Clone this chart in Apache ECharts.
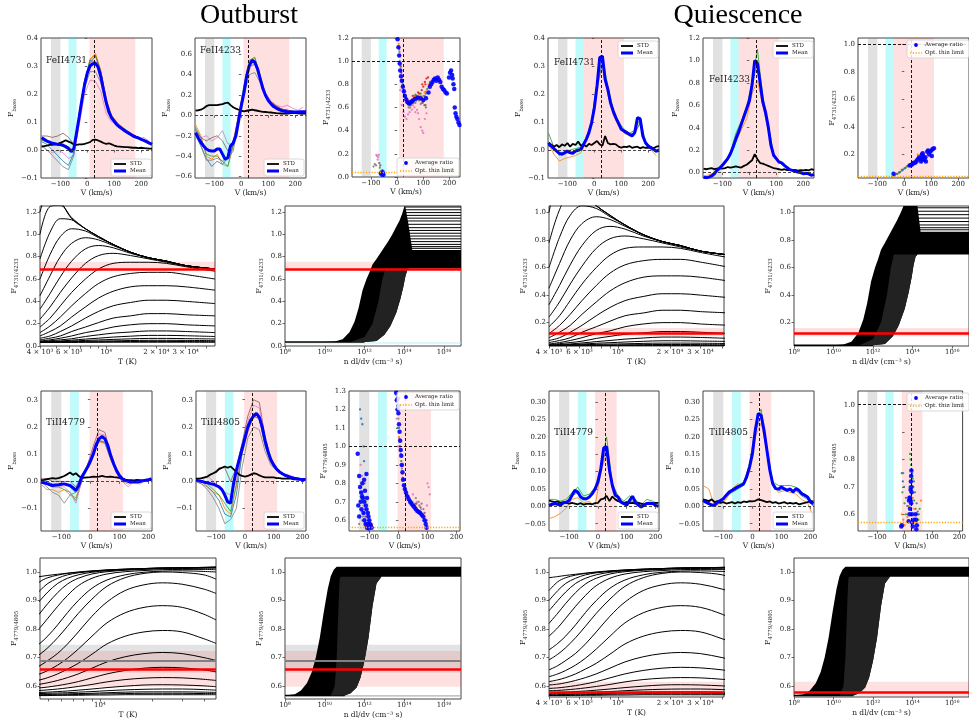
<!DOCTYPE html>
<html><head><meta charset="utf-8">
<script src="https://cdn.jsdelivr.net/npm/echarts@6/dist/echarts.min.js"></script>
<style>html,body{margin:0;padding:0;background:#fff}#c{width:969px;height:724px}</style>
</head><body><div id="c"></div><script>
// ================= DATA =================
const vFe = [-170,-160,-150,-140,-130,-120,-110,-100,-90,-80,-70,-60,-50,-40,-30,-20,-10,0,10,20,30,40,50,60,70,80,90,100,110,120,130,140,150,160,170,180,190,200,210,220,230,240];
const vTi = [-170,-160,-150,-140,-130,-120,-110,-100,-90,-80,-70,-60,-50,-40,-30,-20,-10,0,10,20,30,40,50,60,70,80,90,100,110,120,130,140,150,160,170,180,190,200,210];
const vFe20 = [-170,-150,-130,-110,-90,-70,-50,-30,-10,10,30,50,70,90,110,130,150,170,190,210,230];
const vTi20 = [-170,-150,-130,-110,-90,-70,-50,-30,-10,10,30,50,70,90,110,130,150,170,190,210];

// Outburst FeII4731
const obA_mean = [0.044,0.038,0.032,0.028,0.024,0.022,0.02,0.02,0.017,0.012,0.006,-0.006,0.005,0.062,0.12,0.18,0.235,0.275,0.3,0.308,0.31,0.296,0.262,0.215,0.17,0.135,0.115,0.102,0.09,0.082,0.075,0.068,0.062,0.056,0.05,0.046,0.043,0.038,0.034,0.03,0.025,0.02];
const obA_std = [0.012,0.014,0.016,0.018,0.018,0.02,0.022,0.026,0.03,0.035,0.03,0.026,0.02,0.018,0.02,0.02,0.022,0.025,0.028,0.036,0.037,0.034,0.03,0.025,0.022,0.024,0.02,0.016,0.013,0.012,0.011,0.01,0.01,0.009,0.008,0.008,0.007,0.008,0.007,0.006,0.005,0.005];
const obA_orange = [0.04,0.03,0.022,0.022,0.02,0.01,0.0,0.125,0.245,0.325,0.345,0.285,0.18,0.125,0.1,0.082,0.068,0.055,0.045,0.035,0.022];
const obA_green = [0.035,0.028,0.02,0.018,0.012,0.0,-0.01,0.12,0.24,0.32,0.34,0.28,0.178,0.122,0.098,0.08,0.066,0.054,0.044,0.034,0.022];
const obA_grey = [0.015,0.0,-0.02,-0.04,-0.06,-0.07,-0.02,0.1,0.22,0.28,0.28,0.24,0.16,0.11,0.09,0.075,0.06,0.05,0.045,0.03,0.02];
const obA_brown = [0.05,0.05,0.045,0.05,0.06,0.045,0.02,0.12,0.235,0.31,0.335,0.28,0.175,0.12,0.095,0.08,0.065,0.055,0.045,0.035,0.025];
const obA_pink = [0.02,0.0,-0.01,0.0,-0.01,-0.03,-0.02,0.09,0.2,0.25,0.245,0.21,0.13,0.1,0.1,0.08,0.06,0.045,0.04,0.045,0.03];
const obA_blue = [0.03,0.02,0.0,-0.02,-0.04,-0.055,-0.01,0.13,0.25,0.32,0.315,0.27,0.17,0.12,0.095,0.08,0.066,0.052,0.043,0.033,0.02];
// Outburst FeII4233
const obB_mean = [-0.17,-0.22,-0.266,-0.3,-0.33,-0.345,-0.35,-0.35,-0.33,-0.33,-0.38,-0.43,-0.415,-0.3,-0.27,-0.2,-0.052,0.095,0.227,0.39,0.49,0.54,0.52,0.457,0.358,0.26,0.194,0.145,0.112,0.086,0.07,0.056,0.046,0.04,0.036,0.033,0.032,0.033,0.034,0.035,0.035,0.035];
const obB_std = [0.046,0.05,0.055,0.07,0.09,0.1,0.1,0.1,0.1,0.105,0.11,0.12,0.125,0.1,0.08,0.065,0.055,0.045,0.04,0.045,0.05,0.055,0.05,0.045,0.04,0.035,0.033,0.03,0.028,0.025,0.022,0.02,0.018,0.016,0.018,0.02,0.022,0.023,0.02,0.018,0.016,0.016];
const obB_orange = [-0.09,-0.2,-0.4,-0.43,-0.38,-0.48,-0.5,-0.3,0.0,0.27,0.52,0.56,0.38,0.2,0.13,0.09,0.06,0.05,0.04,0.03,0.035];
const obB_green = [-0.12,-0.22,-0.38,-0.4,-0.4,-0.45,-0.5,-0.28,0.0,0.3,0.54,0.57,0.39,0.21,0.13,0.09,0.06,0.05,0.04,0.03,0.03];
const obB_blue = [-0.18,-0.3,-0.42,-0.5,-0.45,-0.48,-0.42,-0.3,-0.05,0.25,0.48,0.5,0.35,0.19,0.12,0.08,0.06,0.05,0.04,0.03,0.03];
const obB_grey = [-0.2,-0.3,-0.44,-0.44,-0.42,-0.45,-0.42,-0.35,-0.05,0.2,0.4,0.42,0.32,0.2,0.13,0.09,0.06,0.05,0.04,0.03,0.0];
const obB_pink = [-0.15,-0.22,-0.2,-0.25,-0.22,-0.15,-0.28,-0.28,0.02,0.25,0.5,0.52,0.38,0.22,0.14,0.1,0.08,0.1,0.07,0.05,0.08];
const obB_brown = [-0.14,-0.22,-0.25,-0.22,-0.2,-0.25,-0.35,-0.25,0.0,0.26,0.5,0.54,0.37,0.2,0.13,0.09,0.06,0.05,0.04,0.03,0.03];
// Outburst TiII4779
const obD_mean = [-0.002,-0.005,-0.008,-0.012,-0.015,-0.013,-0.012,-0.01,-0.009,-0.012,-0.015,-0.023,-0.033,-0.015,0.016,0.034,0.052,0.074,0.1,0.135,0.156,0.165,0.156,0.132,0.095,0.065,0.04,0.022,0.01,0.004,0.0,-0.002,-0.002,-0.002,0.0,0.002,0.004,0.006,0.01];
const obD_std = [0.005,0.006,0.008,0.01,0.012,0.01,0.012,0.016,0.02,0.026,0.033,0.024,0.03,0.02,0.013,0.014,0.015,0.016,0.018,0.017,0.018,0.02,0.018,0.017,0.018,0.016,0.015,0.013,0.01,0.007,0.005,0.005,0.004,0.006,0.005,0.004,0.005,0.006,0.005];
const obD_orange = [-0.01,-0.03,-0.03,-0.04,-0.03,-0.05,-0.06,0.0,0.05,0.1,0.145,0.14,0.08,0.03,0.0,-0.01,0.0,0.0,0.005,0.01];
const obD_green = [0.0,-0.01,-0.02,-0.02,-0.03,-0.04,-0.07,0.0,0.055,0.11,0.16,0.16,0.09,0.035,0.005,0.0,0.0,0.0,0.005,0.01];
const obD_grey = [0.0,-0.02,-0.04,-0.05,-0.08,-0.05,-0.04,0.01,0.05,0.11,0.15,0.14,0.08,0.03,0.0,0.0,0.0,0.0,0.005,0.01];
const obD_brown = [0.01,0.01,0.0,0.0,0.0,0.0,-0.02,0.02,0.06,0.13,0.19,0.18,0.1,0.04,0.005,0.0,0.0,0.0,0.005,0.01];
const obD_pink = [0.0,-0.01,-0.02,-0.02,-0.02,-0.04,-0.08,0.0,0.06,0.12,0.175,0.17,0.1,0.04,0.0,-0.02,0.0,-0.01,0.005,0.01];
const obD_blue = [0.005,0.0,-0.01,-0.015,-0.01,-0.02,-0.04,0.01,0.05,0.1,0.15,0.145,0.085,0.035,0.0,0.0,0.0,0.0,0.005,0.01];
// Outburst TiII4805
const obE_mean = [0.004,0.002,0.0,-0.003,-0.005,-0.008,-0.01,-0.015,-0.02,-0.03,-0.05,-0.075,-0.08,-0.01,0.04,0.08,0.12,0.16,0.2,0.225,0.24,0.25,0.235,0.2,0.15,0.11,0.08,0.06,0.045,0.035,0.028,0.022,0.018,0.015,0.012,0.01,0.008,0.007,0.006];
const obE_std = [0.01,0.01,0.012,0.015,0.018,0.025,0.03,0.035,0.045,0.05,0.055,0.05,0.055,0.045,0.035,0.025,0.02,0.018,0.02,0.025,0.03,0.028,0.022,0.018,0.015,0.015,0.015,0.015,0.012,0.012,0.01,0.01,0.01,0.01,0.008,0.008,0.008,0.008,0.008];
const obE_orange = [0.0,-0.01,-0.02,-0.04,-0.05,-0.1,-0.12,-0.02,0.1,0.18,0.24,0.23,0.13,0.07,0.04,0.025,0.02,0.01,0.01,0.005];
const obE_green = [0.005,0.0,-0.01,-0.03,-0.05,-0.08,-0.11,-0.01,0.11,0.2,0.25,0.24,0.14,0.075,0.045,0.03,0.02,0.012,0.01,0.006];
const obE_grey = [0.0,-0.01,-0.03,-0.06,-0.1,-0.155,-0.14,-0.1,0.05,0.16,0.2,0.19,0.11,0.06,0.04,0.025,0.02,0.012,0.008,0.005];
const obE_brown = [0.01,0.01,0.02,0.03,0.05,0.05,0.0,0.05,0.14,0.24,0.3,0.29,0.16,0.085,0.05,0.03,0.022,0.015,0.01,0.006];
const obE_pink = [0.01,0.0,0.02,0.0,-0.02,-0.04,-0.05,0.0,0.12,0.22,0.28,0.27,0.16,0.08,0.05,0.03,0.025,0.015,0.012,0.008];
const obE_blue = [0.005,0.0,-0.02,-0.04,-0.07,-0.12,-0.13,-0.05,0.1,0.19,0.24,0.23,0.13,0.07,0.04,0.028,0.02,0.012,0.008,0.005];

// Quiescence FeII4731
const qA_mean = [0.026,0.014,0.005,-0.004,-0.012,-0.015,-0.01,-0.004,-0.01,-0.012,-0.004,-0.001,0.002,0.02,0.038,0.062,0.098,0.151,0.229,0.33,0.335,0.252,0.217,0.169,0.139,0.115,0.095,0.074,0.068,0.062,0.056,0.05,0.062,0.115,0.112,0.05,0.026,0.014,0.008,0.002,-0.004,0.0];
const qA_std = [0.014,0.02,0.012,0.018,0.01,0.02,0.015,0.025,0.012,0.022,0.018,0.03,0.015,0.02,0.012,0.022,0.018,0.025,0.032,0.02,0.015,0.05,0.025,0.02,0.022,0.02,0.012,0.008,0.012,0.01,0.014,0.008,0.01,0.012,0.006,0.01,0.008,0.008,0.01,0.006,0.012,0.014];
const qA_orange = [0.02,-0.015,-0.04,-0.03,-0.025,-0.02,-0.01,0.03,0.09,0.22,0.3,0.2,0.125,0.085,0.06,0.05,0.055,0.1,0.02,0.0,-0.02];
const qA_green = [0.06,0.01,-0.02,-0.005,0.0,0.005,0.01,0.045,0.105,0.24,0.33,0.23,0.145,0.1,0.075,0.06,0.07,0.11,0.03,0.012,0.0];
const qA_blue = [0.03,0.005,-0.01,-0.01,-0.01,0.0,0.0,0.038,0.1,0.23,0.31,0.215,0.14,0.094,0.07,0.056,0.062,0.095,0.026,0.01,-0.01];
// Quiescence FeII4233
const qB_mean = [-0.04,-0.045,-0.04,-0.03,-0.01,0.02,0.04,0.065,0.095,0.125,0.17,0.23,0.3,0.36,0.43,0.5,0.57,0.64,0.78,1.0,0.97,0.8,0.63,0.54,0.41,0.245,0.155,0.125,0.095,0.087,0.065,0.045,0.027,0.02,0.012,0.006,0.0,-0.01,-0.005,-0.01,-0.024,-0.015];
const qB_std = [0.035,0.03,0.035,0.04,0.03,0.035,0.04,0.035,0.04,0.05,0.045,0.05,0.055,0.05,0.045,0.06,0.07,0.09,0.11,0.165,0.12,0.085,0.08,0.07,0.06,0.05,0.04,0.035,0.03,0.025,0.03,0.022,0.025,0.02,0.025,0.018,0.022,0.02,0.025,0.02,0.03,0.025];
const qB_orange = [-0.03,-0.02,0.0,0.05,0.1,0.15,0.27,0.38,0.48,0.7,0.82,0.6,0.38,0.15,0.1,0.06,0.03,0.02,0.0,-0.01,-0.03];
const qB_green = [-0.04,-0.04,-0.02,0.04,0.1,0.18,0.35,0.46,0.59,0.8,1.1,0.68,0.43,0.17,0.1,0.07,0.03,0.015,0.005,0.0,-0.02];
const qB_blue = [-0.05,-0.04,-0.01,0.03,0.09,0.17,0.33,0.44,0.56,0.76,1.0,0.62,0.4,0.15,0.09,0.06,0.025,0.01,0.0,-0.01,-0.03];
// Quiescence TiII4779
const qD_mean = [0.003,0.006,0.008,0.006,0.004,0.01,0.012,0.017,0.032,0.046,0.041,0.027,0.022,0.022,0.027,0.036,0.05,0.07,0.108,0.168,0.172,0.104,0.06,0.032,0.027,0.012,0.008,0.003,0.017,0.029,0.012,0.004,-0.002,0.003,0.008,0.009,0.008,0.003,0.0];
const qD_std = [0.017,0.014,0.012,0.014,0.01,0.012,0.01,0.008,0.01,0.008,0.006,0.009,0.005,0.007,0.008,0.006,0.009,0.01,0.02,0.022,0.03,0.015,0.028,0.02,0.015,0.012,0.01,0.012,0.009,0.01,0.008,0.01,0.008,0.006,0.009,0.01,0.008,0.01,0.01];
const qD_orange = [-0.035,-0.03,-0.02,-0.005,0.02,0.025,0.01,0.015,0.0,0.1,0.15,0.05,0.02,0.005,0.015,0.01,-0.005,0.005,0.005,0.0];
const qD_green = [0.02,0.02,0.015,0.02,0.04,0.055,0.03,0.035,0.055,0.115,0.2,0.065,0.03,0.015,0.03,0.02,0.005,0.02,0.015,0.005];
const qD_blue = [0.0,0.005,0.005,0.01,0.03,0.04,0.02,0.025,0.05,0.105,0.17,0.06,0.028,0.008,0.018,0.012,0.0,0.008,0.008,0.0];
// Quiescence TiII4805
const qE_mean = [0.017,0.012,0.008,0.003,0.004,0.012,0.017,0.022,0.032,0.041,0.046,0.051,0.056,0.06,0.065,0.084,0.113,0.151,0.219,0.267,0.262,0.219,0.161,0.104,0.065,0.051,0.05,0.056,0.05,0.046,0.05,0.041,0.051,0.046,0.036,0.032,0.027,0.012,0.008];
const qE_std = [0.02,0.018,0.015,0.02,0.012,0.015,0.01,0.012,0.008,0.01,0.012,0.008,0.012,0.01,0.014,0.012,0.015,0.014,0.016,0.02,0.018,0.015,0.012,0.014,0.01,0.012,0.008,0.01,0.012,0.008,0.01,0.008,0.01,0.006,0.008,0.01,0.012,0.015,0.014];
const qE_orange = [0.06,0.05,0.0,0.01,0.02,0.05,0.065,0.06,0.1,0.2,0.24,0.16,0.06,0.04,0.045,0.04,0.035,0.02,0.01,-0.03];
const qE_green = [0.02,0.01,0.005,0.015,0.03,0.05,0.06,0.07,0.12,0.23,0.28,0.17,0.07,0.06,0.06,0.06,0.055,0.04,0.03,0.01];
const qE_blue = [0.015,0.005,0.0,0.012,0.028,0.04,0.05,0.06,0.11,0.215,0.26,0.16,0.06,0.045,0.05,0.05,0.045,0.03,0.02,0.0];

// Ratio scatter points [V, ratio]
const obC_avg = [[2,1.19],[5,1.12],[8,1.05],[10,0.98],[12,0.92],[15,0.87],[18,0.83],[22,0.78],[26,0.74],[30,0.7],[35,0.67],[40,0.645],[45,0.635],[50,0.64],[55,0.65],[60,0.66],[70,0.675],[80,0.685],[90,0.68],[100,0.665],[110,0.68],[120,0.73],[125,0.78],[130,0.8],[135,0.82],[140,0.84],[145,0.85],[150,0.83],[155,0.86],[160,0.84],[165,0.82],[170,0.78],[175,0.76],[180,0.75],[185,0.73],[190,0.72],[198,0.86],[202,0.9],[206,0.92],[210,0.88],[212,0.85],[215,0.8],[218,0.76],[220,0.6],[223,0.55],[226,0.52],[230,0.5],[234,0.47],[238,0.45],[-62,0.03],[-57,0.02],[-52,0.02],[-55,0.04]];
const obC_orange = [[6,1.15],[12,0.98],[18,0.84],[25,0.75],[32,0.68],[40,0.64],[50,0.65],[60,0.67],[70,0.69],[80,0.7],[90,0.7],[100,0.7],[110,0.74],[120,0.8],[-60,0.03],[-55,0.05],[-52,0.02],[45,0.66],[65,0.7],[85,0.72],[105,0.73]];
const obC_green = [[8,1.1],[14,0.95],[20,0.82],[28,0.72],[36,0.66],[45,0.63],[55,0.65],[65,0.68],[75,0.7],[85,0.69],[95,0.68],[105,0.7],[115,0.76],[125,0.82],[-58,0.04],[-54,0.03],[50,0.62],[70,0.71],[90,0.72],[110,0.72]];
const obC_red = [[10,1.05],[16,0.9],[24,0.78],[34,0.68],[44,0.64],[54,0.66],[64,0.68],[74,0.7],[84,0.72],[94,0.75],[100,0.78],[106,0.82],[112,0.85],[118,0.86],[-56,0.06],[60,0.7],[80,0.73],[96,0.8],[108,0.8]];
const obC_grey = [[4,1.2],[10,1.0],[18,0.83],[26,0.72],[34,0.65],[44,0.6],[54,0.62],[64,0.64],[74,0.66],[84,0.66],[94,0.64],[104,0.62],[110,0.6],[-90,0.09],[-85,0.11],[-80,0.1],[-66,0.08],[-62,0.05],[50,0.6],[70,0.64],[90,0.63]];
const obC_pink = [[12,0.75],[18,0.62],[24,0.56],[30,0.52],[36,0.5],[42,0.54],[48,0.56],[56,0.58],[66,0.6],[76,0.58],[84,0.5],[90,0.43],[96,0.4],[100,0.38],[106,0.5],[112,0.55],[-79,0.19],[-76,0.18],[-72,0.17],[-70,0.19],[-74,0.15],[60,0.62],[70,0.56],[80,0.55]];
const obC_purple = [[9,1.08],[15,0.92],[22,0.8],[30,0.71],[40,0.65],[50,0.63],[62,0.66],[72,0.68],[82,0.69],[92,0.67],[102,0.66],[112,0.69]];
const obC_brown = [[7,1.12],[13,0.96],[21,0.8],[29,0.7],[38,0.64],[48,0.62],[58,0.64],[68,0.66],[78,0.68],[88,0.67],[98,0.64],[108,0.62],[-68,0.12],[-64,0.1]];

const obF_avg = [[-140,0.96],[-135,0.84],[-132,0.78],[-128,0.75],[-125,0.73],[-122,0.72],[-118,0.7],[-115,0.76],[-112,0.68],[-110,0.66],[-108,0.72],[-105,0.64],[-103,0.62],[-100,0.6],[-98,0.58],[-95,0.57],[-130,0.7],[-127,0.66],[-120,0.64],[-117,0.6],[-113,0.58],[-108,0.56],[-102,0.555],[-135,0.62],[-138,0.68],[-124,0.8],[-118,0.82],[-110,0.85],[-105,0.58],[-92,0.56],[-8,1.29],[-5,1.25],[-3,1.2],[0,1.18],[2,1.12],[4,1.08],[6,1.03],[8,0.98],[10,0.95],[12,0.9],[14,0.86],[16,0.82],[19,0.79],[22,0.77],[26,0.75],[30,0.73],[35,0.715],[40,0.7],[45,0.69],[50,0.68],[55,0.67],[60,0.66],[65,0.65],[70,0.645],[75,0.64],[80,0.63],[85,0.62],[90,0.6],[94,0.58],[97,0.56],[-2,1.26],[1,1.22]];
const obF_orange = [[-130,0.75],[-120,0.68],[-110,0.62],[-100,0.6],[-90,0.58],[-5,1.2],[2,1.05],[8,0.95],[14,0.85],[22,0.76],[32,0.72],[45,0.69],[60,0.67],[75,0.64],[90,0.6],[100,0.57],[-125,0.6],[-115,0.57]];
const obF_green = [[-128,0.72],[-118,0.64],[-106,0.6],[-96,0.58],[-3,1.1],[4,1.0],[10,0.92],[18,0.82],[28,0.74],[40,0.7],[55,0.68],[70,0.65],[85,0.62],[95,0.59],[-112,0.7]];
const obF_grey = [[-135,0.58],[-122,0.62],[-110,0.58],[-100,0.56],[0,1.15],[6,1.0],[12,0.88],[20,0.79],[30,0.74],[42,0.71],[58,0.69],[72,0.68],[86,0.66],[98,0.6],[60,0.72],[70,0.7],[80,0.69]];
const obF_pink = [[-130,0.9],[-125,0.84],[-115,0.8],[-10,1.25],[-6,1.15],[0,1.0],[6,0.9],[14,0.83],[24,0.77],[36,0.73],[50,0.74],[64,0.7],[78,0.66],[92,0.62],[100,0.8],[104,0.78],[108,0.74],[98,0.68]];
const obF_blue = [[-132,1.2],[-128,1.15],[-124,1.12],[-120,1.0],[-118,0.92],[-8,1.28],[-4,1.22],[2,1.1],[8,0.96],[16,0.83],[26,0.76],[40,0.71],[56,0.68],[72,0.65],[88,0.61]];
const obF_brown = [[-126,0.65],[-114,0.62],[-104,0.58],[-2,1.22],[4,1.04],[12,0.9],[22,0.78],[34,0.73],[48,0.7],[62,0.69],[76,0.67],[90,0.64],[96,0.6]];

const qC_avg = [[20,0.12],[25,0.125],[30,0.13],[35,0.14],[40,0.14],[45,0.15],[50,0.165],[55,0.18],[60,0.17],[62,0.15],[65,0.2],[68,0.21],[70,0.19],[72,0.17],[75,0.16],[78,0.18],[80,0.15],[85,0.22],[88,0.23],[92,0.2],[95,0.22],[100,0.23],[105,0.24],[110,0.245],[102,0.19],[-40,0.06]];
const qC_orange = [[-40,0.05],[-30,0.06],[-20,0.07],[-10,0.09],[0,0.1],[10,0.115],[20,0.13],[30,0.14],[40,0.15],[50,0.2],[60,0.18],[70,0.16]];
const qC_green = [[-45,0.04],[-35,0.05],[-25,0.06],[-15,0.075],[-5,0.09],[5,0.105],[15,0.12],[25,0.13],[35,0.14],[45,0.165],[55,0.17],[65,0.15]];
const qC_blue = [[-38,0.05],[-28,0.06],[-18,0.07],[-8,0.085],[2,0.1],[12,0.115],[22,0.125],[32,0.14],[42,0.16],[52,0.175],[62,0.16]];

const qF_avg = [[-12,0.555],[-10,0.56],[15,0.575],[18,0.6],[20,0.62],[20,0.66],[22,0.65],[22,0.69],[23,0.72],[24,0.74],[25,0.7],[26,0.68],[24,0.64],[27,0.6],[28,0.57],[30,0.555],[40,0.6],[42,0.58],[45,0.56],[43,0.545],[35,0.58],[18,0.66],[16,0.65],[25,0.76]];
const qF_green = [[-8,0.68],[-5,0.75],[0,0.64],[5,0.6],[20,0.82],[22,0.8],[24,0.78],[26,0.76],[28,0.74],[30,0.73],[32,0.7],[35,0.65],[40,0.62],[45,0.6],[50,0.58],[55,0.62]];
const qF_orange = [[-10,0.6],[-5,0.58],[0,0.56],[10,0.59],[15,0.63],[20,0.6],[25,0.64],[30,0.66],[35,0.62],[40,0.58],[45,0.57],[50,0.6],[60,0.65]];
const qF_blue = [[-10,0.75],[-6,0.72],[-2,0.7],[5,0.66],[10,0.63],[18,0.7],[28,0.75],[34,0.72],[38,0.68],[44,0.64],[48,0.61],[52,0.6]];

// Model grids: ratio vs temperature (one curve per column density)
const tFe = [4000,4600,5300,6200,7500,9000,11000,14000,18000,23000,30000,45000];
const feModelT = [
 [1.2,1.4,1.3,1.14,1.05,0.98,0.91,0.84,0.79,0.76,0.72,0.69],
 [1.0,1.25,1.26,1.15,1.05,0.98,0.91,0.84,0.79,0.76,0.72,0.69],
 [0.78,1.02,1.14,1.13,1.05,0.98,0.91,0.84,0.79,0.76,0.72,0.69],
 [0.6,0.82,0.98,1.05,1.03,0.97,0.91,0.84,0.79,0.76,0.72,0.69],
 [0.45,0.63,0.8,0.92,0.97,0.95,0.9,0.84,0.79,0.76,0.72,0.69],
 [0.33,0.47,0.62,0.76,0.87,0.9,0.88,0.83,0.79,0.76,0.72,0.69],
 [0.24,0.35,0.48,0.61,0.74,0.81,0.83,0.81,0.78,0.75,0.72,0.69],
 [0.17,0.25,0.36,0.48,0.6,0.69,0.74,0.75,0.75,0.74,0.71,0.67],
 [0.12,0.18,0.26,0.36,0.47,0.56,0.62,0.65,0.66,0.66,0.64,0.6],
 [0.09,0.13,0.18,0.26,0.35,0.43,0.49,0.53,0.54,0.54,0.53,0.5],
 [0.07,0.09,0.13,0.18,0.25,0.31,0.36,0.39,0.41,0.41,0.4,0.38],
 [0.055,0.07,0.09,0.13,0.17,0.21,0.25,0.27,0.29,0.29,0.28,0.27],
 [0.045,0.055,0.07,0.09,0.12,0.14,0.17,0.19,0.2,0.2,0.19,0.18],
 [0.04,0.047,0.055,0.065,0.085,0.1,0.115,0.125,0.135,0.135,0.13,0.12],
 [0.037,0.041,0.045,0.052,0.062,0.07,0.08,0.088,0.095,0.095,0.092,0.085],
 [0.035,0.037,0.04,0.044,0.05,0.054,0.059,0.064,0.068,0.068,0.066,0.063],
 [0.034,0.035,0.037,0.039,0.042,0.044,0.046,0.049,0.051,0.051,0.05,0.048],
 [0.033,0.034,0.035,0.036,0.037,0.038,0.039,0.04,0.041,0.041,0.04,0.039],
 [0.031,0.031,0.032,0.032,0.033,0.033,0.034,0.034,0.034,0.034,0.034,0.033]
];
const tTi = [4000,4500,5000,5700,6500,7500,9000,11000,14000,18000,23000,30000,40000,47000];
const tiModelT = [
 [0.98,0.984,0.988,0.992,0.996,1.0,1.004,1.007,1.01,1.012,1.014,1.015,1.016,1.017],
 [0.935,0.966,0.98,0.989,0.995,0.999,1.003,1.007,1.01,1.012,1.014,1.015,1.016,1.017],
 [0.9,0.935,0.96,0.978,0.99,0.997,1.002,1.006,1.009,1.012,1.014,1.015,1.016,1.017],
 [0.864,0.9,0.93,0.96,0.978,0.99,0.999,1.004,1.008,1.011,1.013,1.014,1.015,1.016],
 [0.82,0.856,0.89,0.928,0.958,0.978,0.993,1.001,1.006,1.009,1.011,1.012,1.013,1.013],
 [0.775,0.805,0.838,0.88,0.918,0.952,0.978,0.993,1.001,1.005,1.008,1.009,1.009,1.008],
 [0.727,0.75,0.776,0.815,0.858,0.9,0.943,0.972,0.99,0.999,1.003,1.004,1.002,1.0],
 [0.692,0.712,0.735,0.77,0.81,0.855,0.905,0.95,0.98,0.995,1.0,0.998,0.99,0.975],
 [0.657,0.672,0.69,0.715,0.748,0.79,0.845,0.895,0.935,0.955,0.962,0.957,0.94,0.925],
 [0.633,0.643,0.655,0.674,0.698,0.73,0.775,0.822,0.857,0.876,0.882,0.876,0.852,0.832],
 [0.616,0.622,0.63,0.643,0.66,0.68,0.712,0.748,0.775,0.79,0.795,0.79,0.766,0.75],
 [0.604,0.607,0.612,0.62,0.63,0.643,0.663,0.685,0.703,0.714,0.718,0.714,0.7,0.69],
 [0.592,0.594,0.597,0.602,0.608,0.616,0.629,0.643,0.655,0.663,0.666,0.664,0.657,0.65],
 [0.584,0.585,0.587,0.59,0.594,0.599,0.606,0.615,0.623,0.628,0.63,0.629,0.624,0.62],
 [0.577,0.578,0.579,0.581,0.583,0.586,0.59,0.595,0.6,0.604,0.605,0.604,0.601,0.598],
 [0.573,0.574,0.575,0.576,0.577,0.579,0.581,0.584,0.587,0.589,0.59,0.59,0.588,0.586],
 [0.57,0.57,0.571,0.572,0.573,0.574,0.575,0.577,0.579,0.58,0.58,0.58,0.579,0.578],
 [0.568,0.568,0.569,0.569,0.57,0.571,0.572,0.573,0.574,0.575,0.575,0.575,0.574,0.574],
 [0.567,0.567,0.567,0.568,0.568,0.568,0.569,0.569,0.57,0.57,0.57,0.57,0.57,0.57]
];
// Model grids: ratio vs column density, outlines of the dense curve bundle [log10 n, ratio]
const feNLeft = [[8,0.035],[10,0.036],[10.5,0.04],[10.9,0.06],[11.25,0.125],[11.5,0.22],[11.7,0.34],[11.9,0.5],[12.1,0.6],[12.25,0.66],[12.4,0.73],[12.6,0.78],[12.9,0.86],[13.2,0.94],[13.4,1.0],[13.6,1.07],[13.75,1.12],[13.9,1.19],[14.0,1.25]];
const feNTop = [[14.05,1.25],[14.2,1.1],[14.4,0.86],[16.85,0.86],[16.85,0.695]];
const feNRight = [[14.25,0.695],[14.15,0.68],[14.05,0.62],[13.95,0.53],[13.8,0.42],[13.6,0.3],[13.3,0.18],[13.0,0.1],[12.6,0.045],[12.0,0.035]];
const feNMid = [[11.3,0.035],[12.0,0.08],[12.4,0.2],[12.7,0.4],[12.9,0.6],[13.05,0.695]];
const feNPlateau = [1.245,1.22,1.195,1.17,1.145,1.12,1.09,1.06,1.035,1.01,0.985,0.96,0.935,0.91,0.89,0.875];
const tiNLeft = [[8,0.567],[8.5,0.572],[8.8,0.585],[9.1,0.61],[9.35,0.65],[9.55,0.7],[9.75,0.77],[9.95,0.86],[10.15,0.94],[10.3,0.985],[10.45,1.008],[10.6,1.018]];
const tiNTop = [[16.85,1.018],[16.85,0.983]];
const tiNRight = [[12.85,0.983],[12.6,0.96],[12.4,0.88],[12.2,0.77],[12.0,0.69],[11.8,0.63],[11.6,0.595],[11.3,0.575],[11.0,0.567]];
const tiNMid = [[10.3,0.567],[10.5,0.6],[10.6,0.7],[10.65,0.8],[10.7,0.9],[10.75,0.975],[10.8,0.983]];

// observed ratios (line, band)
const obsFeO = {val:0.685, lo:0.685, hi:0.755};
const obsFeQ = {val:0.123, lo:0.10, hi:0.16};
const obsTiO = {val:0.664, lo:0.598, hi:0.723, gval:0.691, glo:0.648, ghi:0.745};
const obsTiQ = {val:0.582, lo:0.565, hi:0.615};

// ================= BUILD =================
const FONT = 'DejaVu Serif';
const C = {blue:'#1f77b4', orange:'#ff7f0e', green:'#2ca02c', red:'#d62728', purple:'#9467bd', brown:'#8c564b', pink:'#e377c2', grey:'#7f7f7f'};
const grids=[], xAxes=[], yAxes=[], series=[], graphics=[];
const SUP = '⁰¹²³⁴⁵⁶⁷⁸⁹';
const sup = n => String(n).split('').map(d => SUP[+d]).join('');
const fmtD = d => v => (v < -1e-9 ? '\u2212' : '') + Math.abs(v).toFixed(d);
const zip = (xs, ys) => xs.map((x,i) => [x, ys[i]]);
const P = v => Math.pow(10, v);

function yName(sub){ return '{f|F}{s|' + sub + '}'; }
const yNameStyle = {color:'#222', rich:{f:{fontSize:8, fontFamily:FONT, color:'#222', lineHeight:12}, s:{fontSize:5.5, fontFamily:FONT, color:'#222', verticalAlign:'bottom', lineHeight:6}}};

function addPanel(box, xc, yc){
  const gi = grids.length;
  grids.push({left:box[0], top:box[1], width:box[2]-box[0], height:box[3]-box[1], show:true, borderColor:'#444', borderWidth:1, backgroundColor:'#fff'});
  xAxes.push({type:xc.type||'value', gridIndex:gi, min:xc.min, max:xc.max, logBase:10,
    axisLine:{show:false}, splitLine:{show:false}, minorTick:{show:false},
    axisTick:{show:true, length:2.5, lineStyle:{color:'#444', width:0.8}, customValues:xc.ticks},
    axisLabel:{show:true, customValues:xc.labels||xc.ticks, formatter:xc.fmt, fontSize:7, fontFamily:FONT, color:'#222', margin:3, hideOverlap:false},
    name:xc.name, nameLocation:'middle', nameGap:xc.gap||11, nameTextStyle:{fontSize:7.5, fontFamily:FONT, color:'#222'}});
  yAxes.push({type:'value', gridIndex:gi, min:yc.min, max:yc.max,
    axisLine:{show:false}, splitLine:{show:false},
    axisTick:{show:true, length:2.5, lineStyle:{color:'#444', width:0.8}, customValues:yc.ticks},
    axisLabel:{show:true, customValues:yc.ticks, formatter:fmtD(yc.dec), fontSize:7, fontFamily:FONT, color:'#222', margin:3},
    name:yName(yc.sub), nameLocation:'middle', nameRotate:90, nameGap:yc.gap||22, nameTextStyle:yNameStyle});
  return gi;
}
function line(gi, data, color, width, z, extra){
  series.push(Object.assign({type:'line', xAxisIndex:gi, yAxisIndex:gi, data, symbol:'none', showSymbol:false, silent:true, animation:false, clip:true,
    lineStyle:{color, width}, itemStyle:{color}, z:z||2}, extra||{}));
}
function scatter(gi, data, color, size, z){
  series.push({type:'scatter', xAxisIndex:gi, yAxisIndex:gi, data, symbolSize:size, silent:true, animation:false, itemStyle:{color, opacity:0.9}, z:z||3});
}
function markers(gi, x0, y0, areas, lines, z){
  series.push({type:'line', xAxisIndex:gi, yAxisIndex:gi, data:[[x0,y0]], symbol:'none', silent:true, animation:false, lineStyle:{opacity:0}, z:z,
    markArea:{silent:true, data:areas||[]},
    markLine:{silent:true, symbol:['none','none'], label:{show:false}, animation:false, data:lines||[]}});
}
function polygon(gi, pts, color, z){
  series.push({type:'custom', xAxisIndex:gi, yAxisIndex:gi, coordinateSystem:'cartesian2d', data:[[P(pts[0][0]), pts[0][1]]], silent:true, animation:false, z:z,
    renderItem:(params, api) => { const cs = params.coordSys; return {type:'polygon', shape:{points:pts.map(p => api.coord([P(p[0]), p[1]]))}, style:{fill:color}, clipPath:{type:'rect', shape:{x:cs.x, y:cs.y, width:cs.width, height:cs.height}}}; }});
}
const band = (a, b, color) => [{xAxis:a, itemStyle:{color}}, {xAxis:b}];
const hband = (a, b, color) => [{yAxis:a, itemStyle:{color}}, {yAxis:b}];
const GREY = 'rgba(128,128,128,0.24)', CYAN = 'rgba(0,240,240,0.25)', PINK = 'rgba(255,0,0,0.12)';

const vxFe = {min:-172, max:240, ticks:[-100,0,100,200], fmt:fmtD(0), name:'V (km/s)'};
const vxTi = {min:-170, max:212, ticks:[-100,0,100,200], fmt:fmtD(0), name:'V (km/s)'};

function specPanel(box, vx, yc, pink, v, mean, std, v20, cols, label){
  const gi = addPanel(box, vx, Object.assign({sub:'base'}, yc));
  markers(gi, vx.min, yc.min, [band(-135,-100,GREY), band(-70,-40,CYAN), band(pink[0],pink[1],PINK)], [], 1);
  cols.forEach(c => line(gi, zip(v20, c[1]), c[0], 0.8, 2));
  line(gi, zip(v, std), '#000', 1.8, 3);
  line(gi, zip(v, mean), '#0000ff', 3, 4);
  markers(gi, vx.min, yc.min, [], [
    {xAxis:25, lineStyle:{color:'#000', type:[3,2], width:0.9}},
    {yAxis:0, lineStyle:{color:'#333', type:[3,2], width:0.9}}], 5);
  graphics.push({type:'text', x:label[1], y:label[2], z:50, style:{text:label[0], fontSize:9, fontFamily:FONT, fill:'#222', verticalAlign:'middle'}});
  return gi;
}
function ratioPanel(box, vx, yc, pink, thin, avg, groups){
  const gi = addPanel(box, vx, yc);
  markers(gi, vx.min, yc.min, [band(-135,-100,GREY), band(-70,-40,CYAN), band(pink[0],pink[1],PINK)], [], 1);
  groups.forEach(g => scatter(gi, g[1], g[0], 2.3, 3));
  scatter(gi, avg, '#0000ff', 4.5, 4);
  markers(gi, vx.min, yc.min, [], [
    {xAxis:25, lineStyle:{color:'#000', type:[3,2], width:0.9}},
    {yAxis:1.0, lineStyle:{color:'#000', type:[3,2], width:0.9}},
    {yAxis:thin, lineStyle:{color:'#ffa500', type:[1.2,1.6], width:1.3}}], 5);
  return gi;
}
const tLab = {4000:'4 × 10³', 6000:'6 × 10³', 10000:'10⁴', 20000:'2 × 10⁴', 30000:'3 × 10⁴'};
const tFmt = v => tLab[Math.round(v)] || '';
const nFmt = v => '10' + sup(Math.round(Math.log10(v)));
const nx = {type:'log', min:1e8, max:P(16.85), ticks:[1e8,1e10,1e12,1e14,1e16], fmt:nFmt, name:'n dl/dv (cm⁻³ s)', gap:12};

function modelT(box, xc, yc, tx, curves, obs){
  const gi = addPanel(box, Object.assign({type:'log', name:'T (K)', gap:12}, xc), yc);
  const areas = [hband(obs.lo, obs.hi, PINK)], lines = [];
  if (obs.gval !== undefined) { areas.push(hband(obs.glo, obs.ghi, 'rgba(128,128,128,0.22)')); }
  markers(gi, xc.min, yc.min, areas, [], 1);
  curves.forEach(c => line(gi, zip(tx, c), '#000', 1, 2, {smooth:0.35}));
  if (obs.gval !== undefined) lines.push({yAxis:obs.gval, lineStyle:{color:'#808080', width:2, type:'solid'}});
  lines.push({yAxis:obs.val, lineStyle:{color:'#ff0000', width:2.5, type:'solid'}});
  markers(gi, xc.min, yc.min, [], lines, 6);
  return gi;
}
function modelN(box, yc, left, top, right, mid, plateau, obs, baseLine){
  const gi = addPanel(box, nx, yc);
  const areas = [hband(obs.lo, obs.hi, PINK)], lines = [];
  if (obs.gval !== undefined) areas.push(hband(obs.glo, obs.ghi, 'rgba(128,128,128,0.22)'));
  markers(gi, 1e8, yc.min, areas, [], 1);
  if (baseLine) line(gi, [[1e8, baseLine[0]], [P(16.85), baseLine[0]]], baseLine[1], 1.2, 2);
  polygon(gi, left.concat(top, right), '#000', 3);
  polygon(gi, mid.concat(right), '#222', 4);
  line(gi, [[1e8, left[0][1]], [P(right[right.length-1][0]), left[0][1]]], '#000', 1.5, 3);
  plateau.forEach(L => line(gi, [[1e14, L], [P(16.85), L]], '#000', 1, 3));
  if (obs.gval !== undefined) lines.push({yAxis:obs.gval, lineStyle:{color:'#808080', width:2, type:'solid'}});
  lines.push({yAxis:obs.val, lineStyle:{color:'#ff0000', width:2.5, type:'solid'}});
  markers(gi, 1e8, yc.min, [], lines, 6);
  return gi;
}

// ---------- OUTBURST ----------
const feYA = {min:-0.1, max:0.4, ticks:[-0.1,0,0.1,0.2,0.3,0.4], dec:1};
specPanel([41,38,152,178], vxFe, feYA, [8,178], vFe, obA_mean, obA_std, vFe20,
  [[C.orange,obA_orange],[C.green,obA_green],[C.grey,obA_grey],[C.brown,obA_brown],[C.pink,obA_pink],[C.blue,obA_blue]], ['FeII4731',46,61]);
specPanel([195,38,306,178], vxFe, {min:-0.614, max:0.758, ticks:[-0.6,-0.4,-0.2,0,0.2,0.4,0.6], dec:1}, [8,178], vFe, obB_mean, obB_std, vFe20,
  [[C.orange,obB_orange],[C.green,obB_green],[C.blue,obB_blue],[C.grey,obB_grey],[C.pink,obB_pink],[C.brown,obB_brown]], ['FeII4233',200,51]);
ratioPanel([352,38,460,177], vxFe, {min:0, max:1.2, ticks:[0,0.2,0.4,0.6,0.8,1.0,1.2], dec:1, sub:'4731/4233', gap:20}, [8,178], 0.035, obC_avg,
  [[C.orange,obC_orange],[C.green,obC_green],[C.red,obC_red],[C.grey,obC_grey],[C.pink,obC_pink],[C.purple,obC_purple],[C.brown,obC_brown]]);
modelT([40,206,215,346], {min:4000, max:45000, ticks:[4000,5000,6000,7000,8000,9000,10000,20000,30000,40000], labels:[4000,6000,10000,20000,30000], fmt:tFmt},
  {min:0, max:1.254, ticks:[0,0.2,0.4,0.6,0.8,1.0,1.2], dec:1, sub:'4731/4233', gap:20}, tFe, feModelT, obsFeO);
modelN([285,206,461,346], {min:0, max:1.254, ticks:[0,0.2,0.4,0.6,0.8,1.0,1.2], dec:1, sub:'4731/4233', gap:20},
  feNLeft, feNTop, feNRight, feNMid, feNPlateau, obsFeO, [0.027,'#b8f4f4']);
const tiYO = {min:-0.182, max:0.332, ticks:[-0.1,0,0.1,0.2,0.3], dec:1};
specPanel([41,391,152,531], vxTi, tiYO, [-3,112], vTi, obD_mean, obD_std, vTi20,
  [[C.orange,obD_orange],[C.green,obD_green],[C.grey,obD_grey],[C.brown,obD_brown],[C.pink,obD_pink],[C.blue,obD_blue]], ['TiII4779',46,423]);
specPanel([196,391,306,531], vxTi, tiYO, [-3,112], vTi, obE_mean, obE_std, vTi20,
  [[C.orange,obE_orange],[C.green,obE_green],[C.grey,obE_grey],[C.brown,obE_brown],[C.pink,obE_pink],[C.blue,obE_blue]], ['TiII4805',201,423]);
ratioPanel([349,391,460,531], vxTi, {min:0.542, max:1.3, ticks:[0.6,0.7,0.8,0.9,1.0,1.1,1.2,1.3], dec:1, sub:'4779/4805', gap:20}, [-3,112], 0.565, obF_avg,
  [[C.orange,obF_orange],[C.green,obF_green],[C.grey,obF_grey],[C.pink,obF_pink],[C.blue,obF_blue],[C.brown,obF_brown]]);
modelT([40,558,216,699], {min:4500, max:47000, ticks:[5000,6000,7000,8000,9000,10000,20000,30000,40000], labels:[10000], fmt:tFmt},
  {min:0.555, max:1.049, ticks:[0.6,0.7,0.8,0.9,1.0], dec:1, sub:'4779/4805', gap:20}, tTi, tiModelT, obsTiO);
modelN([285,558,461,699], {min:0.555, max:1.049, ticks:[0.6,0.7,0.8,0.9,1.0], dec:1, sub:'4779/4805', gap:20},
  tiNLeft, tiNTop, tiNRight, tiNMid, [], obsTiO, [0.566,'#b0b0b0']);

// ---------- QUIESCENCE ----------
specPanel([548,38,659,178], vxFe, feYA, [-40,110], vFe, qA_mean, qA_std, vFe20,
  [[C.orange,qA_orange],[C.green,qA_green],[C.blue,qA_blue]], ['FeII4731',554,63]);
specPanel([703,38,814,178], vxFe, {min:-0.048, max:1.2, ticks:[0,0.2,0.4,0.6,0.8,1.0,1.2], dec:1}, [-40,110], vFe, qB_mean, qB_std, vFe20,
  [[C.orange,qB_orange],[C.green,qB_green],[C.blue,qB_blue]], ['FeII4233',709,80]);
ratioPanel([858,38,971,178], vxFe, {min:0.03, max:1.044, ticks:[0.2,0.4,0.6,0.8,1.0], dec:1, sub:'4731/4233', gap:20}, [-40,110], 0.035, qC_avg,
  [[C.orange,qC_orange],[C.green,qC_green],[C.blue,qC_blue]]);
modelT([549,206,724,346], {min:4000, max:41000, ticks:[4000,5000,6000,7000,8000,9000,10000,20000,30000,40000], labels:[4000,6000,10000,20000,30000], fmt:tFmt},
  {min:0.03, max:1.048, ticks:[0.2,0.4,0.6,0.8,1.0], dec:1, sub:'4731/4233', gap:20}, tFe, feModelT, obsFeQ);
modelN([794,206,971,346], {min:0.03, max:1.048, ticks:[0.2,0.4,0.6,0.8,1.0], dec:1, sub:'4731/4233', gap:20},
  feNLeft, feNTop, feNRight, feNMid, feNPlateau, obsFeQ, null);
const tiYQ = {min:-0.071, max:0.332, ticks:[-0.05,0,0.05,0.1,0.15,0.2,0.25,0.3], dec:2};
specPanel([549,391,659,531], vxTi, tiYQ, [-10,65], vTi, qD_mean, qD_std, vTi20,
  [[C.orange,qD_orange],[C.green,qD_green],[C.blue,qD_blue]], ['TiII4779',554,433]);
specPanel([703,391,814,531], vxTi, tiYQ, [-10,65], vTi, qE_mean, qE_std, vTi20,
  [[C.orange,qE_orange],[C.green,qE_green],[C.blue,qE_blue]], ['TiII4805',709,433]);
ratioPanel([858,391,971,531], vxTi, {min:0.539, max:1.05, ticks:[0.6,0.7,0.8,0.9,1.0], dec:1, sub:'4779/4805', gap:20}, [-10,65], 0.567, qF_avg,
  [[C.green,qF_green],[C.orange,qF_orange],[C.blue,qF_blue]]);
modelT([549,558,724,697], {min:4000, max:41000, ticks:[4000,5000,6000,7000,8000,9000,10000,20000,30000,40000], labels:[4000,6000,10000,20000,30000], fmt:tFmt},
  {min:0.562, max:1.049, ticks:[0.6,0.7,0.8,0.9,1.0], dec:1, sub:'4779/4805', gap:20}, tTi, tiModelT, obsTiQ);
modelN([794,558,971,697], {min:0.562, max:1.049, ticks:[0.6,0.7,0.8,0.9,1.0], dec:1, sub:'4779/4805', gap:20},
  tiNLeft, tiNTop, tiNRight, tiNMid, [], obsTiQ, null);

// ---------- legends & titles ----------
function legStd(x, y){
  graphics.push({type:'rect', z:60, shape:{x, y, width:40, height:17, r:2}, style:{fill:'rgba(255,255,255,0.85)', stroke:'#d0d0d0', lineWidth:0.8}});
  graphics.push({type:'line', z:61, shape:{x1:x+3, y1:y+5, x2:x+15, y2:y+5}, style:{stroke:'#000', lineWidth:1.8}});
  graphics.push({type:'line', z:61, shape:{x1:x+3, y1:y+12, x2:x+15, y2:y+12}, style:{stroke:'#0000ff', lineWidth:3}});
  graphics.push({type:'text', z:61, x:x+19, y:y+5, style:{text:'STD', fontSize:5.5, fontFamily:FONT, fill:'#222', verticalAlign:'middle'}});
  graphics.push({type:'text', z:61, x:x+19, y:y+12, style:{text:'Mean', fontSize:5.5, fontFamily:FONT, fill:'#222', verticalAlign:'middle'}});
}
function legRatio(x, y){
  graphics.push({type:'rect', z:60, shape:{x, y, width:62, height:18, r:2}, style:{fill:'rgba(255,255,255,0.85)', stroke:'#d0d0d0', lineWidth:0.8}});
  graphics.push({type:'circle', z:61, shape:{cx:x+9, cy:y+5, r:1.9}, style:{fill:'#0000ff'}});
  graphics.push({type:'line', z:61, shape:{x1:x+3, y1:y+13, x2:x+15, y2:y+13}, style:{stroke:'#ffa500', lineWidth:1.3, lineDash:[1.2,1.6]}});
  graphics.push({type:'text', z:61, x:x+18, y:y+5, style:{text:'Average ratio', fontSize:5.5, fontFamily:FONT, fill:'#222', verticalAlign:'middle'}});
  graphics.push({type:'text', z:61, x:x+18, y:y+13, style:{text:'Opt. thin limit', fontSize:5.5, fontFamily:FONT, fill:'#222', verticalAlign:'middle'}});
}
legStd(111,159); legStd(264,159); legRatio(397,158);
legStd(111,512); legStd(264,512); legRatio(397,392);
legStd(618,41); legStd(773,41); legRatio(907,40);
legStd(618,512); legStd(773,512); legRatio(907,393);
graphics.push({type:'text', x:249, y:16, style:{text:'Outburst', fontSize:28, fontFamily:'Liberation Serif', fill:'#000', align:'center', verticalAlign:'middle'}});
graphics.push({type:'text', x:738, y:16, style:{text:'Quiescence', fontSize:28, fontFamily:'Liberation Serif', fill:'#000', align:'center', verticalAlign:'middle'}});

const chart = echarts.init(document.getElementById('c'), null, {renderer:'canvas'});
chart.setOption({animation:false, backgroundColor:'#fff', grid:grids, xAxis:xAxes, yAxis:yAxes, series, graphic:graphics});
</script></body></html>
